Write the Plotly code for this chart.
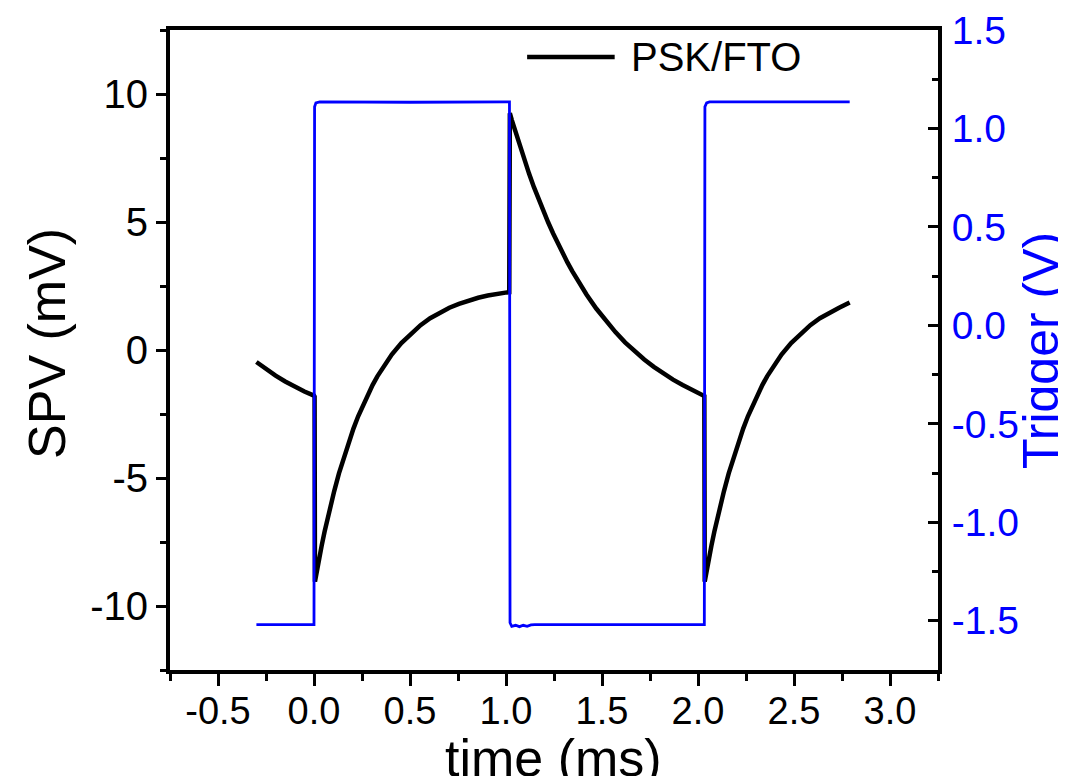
import plotly.graph_objects as go

# SPV signal (mV)
spv_time = [
    -0.30, -0.25, -0.20, -0.15, -0.10, -0.05, 0.0, 0.003,
    0.005, 0.015, 0.025, 0.040, 0.055, 0.080, 0.105, 0.130, 0.155, 0.180,
    0.205, 0.230, 0.255, 0.280, 0.305, 0.330, 0.355, 0.380, 0.405, 0.455,
    0.505, 0.555, 0.605, 0.655, 0.705, 0.755, 0.805, 0.855, 0.905, 0.955,
    1.005, 1.017,
    1.020, 1.030, 1.040, 1.055, 1.070, 1.095, 1.120, 1.145, 1.170, 1.195,
    1.220, 1.245, 1.270, 1.295, 1.320, 1.345, 1.370, 1.395, 1.420, 1.470,
    1.520, 1.570, 1.620, 1.670, 1.720, 1.770, 1.820, 1.870, 1.920, 1.970,
    2.020, 2.033,
    2.035, 2.045, 2.055, 2.070, 2.085, 2.110, 2.135, 2.160, 2.185, 2.210,
    2.235, 2.260, 2.285, 2.310, 2.335, 2.360, 2.385, 2.410, 2.435, 2.485,
    2.535, 2.585, 2.635, 2.685, 2.735, 2.79,
]
spv_mv = [
    -0.47, -0.75, -1.00, -1.23, -1.43, -1.62, -1.78, -1.82,
    -9.05, -8.59, -8.20, -7.64, -7.10, -6.27, -5.52, -4.82, -4.19, -3.61,
    -3.08, -2.59, -2.15, -1.74, -1.37, -1.03, -0.72, -0.44, -0.18, 0.27,
    0.65, 0.97, 1.24, 1.46, 1.65, 1.80, 1.93, 2.04, 2.13, 2.21,
    2.25, 2.26,
    9.25, 8.99, 8.74, 8.37, 8.01, 7.44, 6.89, 6.37, 5.88, 5.42,
    4.98, 4.56, 4.16, 3.78, 3.42, 3.08, 2.76, 2.45, 2.16, 1.62,
    1.14, 0.70, 0.30, -0.05, -0.37, -0.66, -0.92, -1.16, -1.37, -1.56,
    -1.73, -1.80,
    -9.05, -8.59, -8.20, -7.64, -7.10, -6.27, -5.52, -4.82, -4.19, -3.61,
    -3.08, -2.59, -2.15, -1.74, -1.37, -1.03, -0.72, -0.44, -0.18, 0.27,
    0.65, 0.97, 1.24, 1.46, 1.65, 1.86,
]

# trigger signal (V)
trig_time = [
    -0.30, 0.0, 0.003, 0.01, 0.03, 0.5, 1.0, 1.018,
    1.021, 1.03, 1.05, 1.07, 1.09, 1.11, 1.13, 1.15, 1.5, 2.033,
    2.036, 2.045, 2.06, 2.5, 2.79,
]
trig_v = [
    -1.52, -1.52, 1.11, 1.13, 1.135, 1.133, 1.135, 1.135,
    -1.51, -1.528, -1.523, -1.53, -1.523, -1.528, -1.521, -1.52, -1.52, -1.52,
    1.11, 1.13, 1.135, 1.134, 1.135,
]

x_ticks = [-0.5, 0.0, 0.5, 1.0, 1.5, 2.0, 2.5, 3.0]
x_tick_labels = ["-0.5", "0.0", "0.5", "1.0", "1.5", "2.0", "2.5", "3.0"]
y_ticks = [-10, -5, 0, 5, 10]
y_tick_labels = ["-10", "-5", "0", "5", "10"]
y2_ticks = [-1.5, -1.0, -0.5, 0.0, 0.5, 1.0, 1.5]
y2_tick_labels = ["-1.5", "-1.0", "-0.5", "0.0", "0.5", "1.0", "1.5"]

FONT = "Liberation Sans, Arial, sans-serif"
BLUE = "#0000ff"

fig = go.Figure()
fig.add_trace(go.Scatter(
    x=spv_time, y=spv_mv, mode="lines", name="PSK/FTO",
    line={"color": "black", "width": 4.5},
    showlegend=False,
))
fig.add_trace(go.Scatter(
    x=trig_time, y=trig_v, mode="lines", name="Trigger", yaxis="y2",
    line={"color": BLUE, "width": 2.8},
    showlegend=False,
))

axis_common = dict(
    showgrid=False, zeroline=False, showline=True, automargin=False,
    linecolor="black", linewidth=4, tickcolor="black", tickwidth=3,
)

# the page body adds an 8px offset, so the figure is 8px smaller each way
fig.update_layout(
    width=1058, height=768,
    margin={"l": 162, "r": 128, "t": 22, "b": 106},
    paper_bgcolor="white", plot_bgcolor="white",
    xaxis=dict(
        **axis_common,
        range=[-0.75, 3.25], mirror=True,
        tickmode="array", tickvals=x_ticks, ticktext=x_tick_labels,
        ticks="outside", ticklen=12, ticklabelstandoff=-8,
        tickfont={"family": FONT, "size": 38, "color": "black"},
        minor={"tickmode": "linear", "tick0": 0, "dtick": 0.25,
               "ticks": "outside", "ticklen": 7, "tickwidth": 3, "tickcolor": "black"},
    ),
    yaxis=dict(
        **axis_common,
        range=[-12.5, 12.5],
        tickmode="array", tickvals=y_ticks, ticktext=y_tick_labels,
        ticks="outside", ticklen=10, ticklabelstandoff=0,
        tickfont={"family": FONT, "size": 40, "color": "black"},
        minor={"tickmode": "linear", "tick0": 0, "dtick": 2.5,
               "ticks": "outside", "ticklen": 6, "tickwidth": 3, "tickcolor": "black"},
    ),
    yaxis2=dict(
        **axis_common,
        overlaying="y", side="right",
        range=[-1.75, 1.5],
        tickmode="array", tickvals=y2_ticks, ticktext=y2_tick_labels,
        ticks="inside", ticklen=10, ticklabelstandoff=2,
        tickfont={"family": FONT, "size": 39, "color": BLUE},
        minor={"tickmode": "linear", "tick0": 0, "dtick": 0.25,
               "ticks": "inside", "ticklen": 6, "tickwidth": 3, "tickcolor": "black"},
    ),
    shapes=[
        # legend sample line
        dict(type="line", xref="paper", yref="paper",
             x0=0.465, x1=0.579, y0=0.958, y1=0.958,
             line={"color": "black", "width": 4.5}),
    ],
    annotations=[
        dict(text="PSK/FTO", xref="paper", yref="paper", x=0.5977, y=0.958,
             xanchor="left", yanchor="middle", showarrow=False,
             font={"family": FONT, "size": 40, "color": "black"}),
        dict(text="SPV (mV)", xref="paper", yref="paper", x=-0.161, y=0.51,
             xanchor="center", yanchor="middle", textangle=-90, showarrow=False,
             font={"family": FONT, "size": 52, "color": "black"}),
        dict(text="Trigger (V)", xref="paper", yref="paper", x=1.134, y=0.5,
             xanchor="center", yanchor="middle", textangle=-90, showarrow=False,
             font={"family": FONT, "size": 50, "color": BLUE}),
        dict(text="time (ms)", xref="paper", yref="paper", x=0.499, y=-0.137,
             xanchor="center", yanchor="middle", showarrow=False,
             font={"family": FONT, "size": 52, "color": "black"}),
    ],
)

fig.write_html("out.html")
